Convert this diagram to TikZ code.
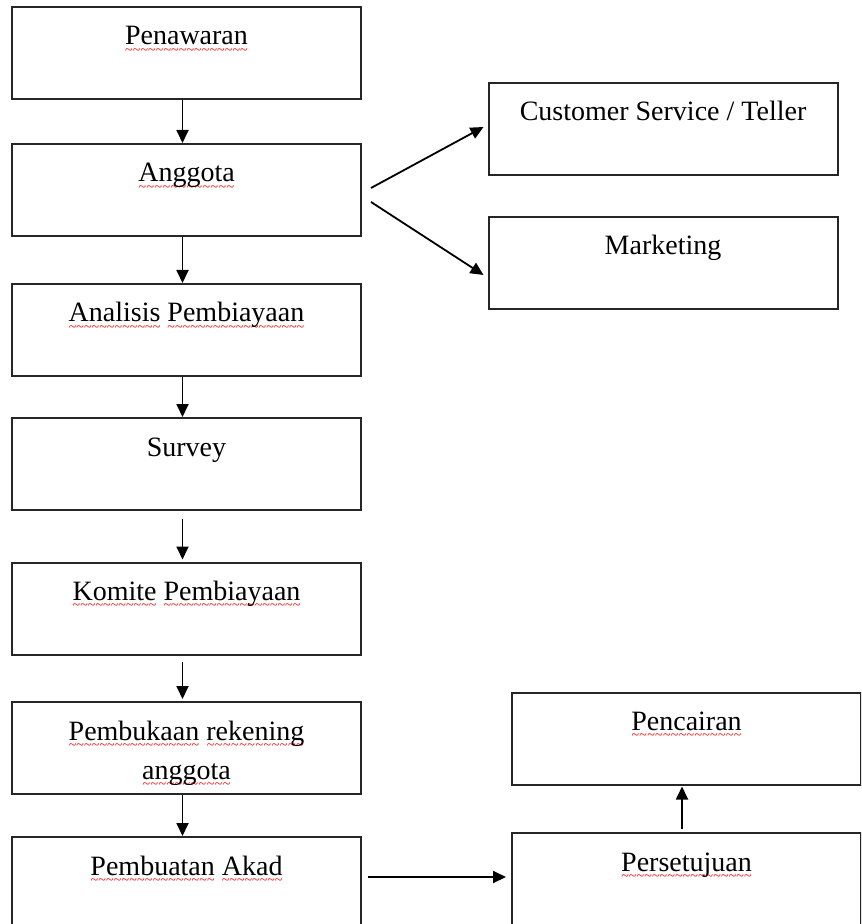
\documentclass[tikz,border=0pt]{standalone}
\usepackage{fontspec}
\setmainfont{Liberation Serif}
\usetikzlibrary{arrows.meta}

% red wavy mark under flagged words
\newcommand\spellerr[1]{\setbox0\hbox{#1}\rlap{\textcolor{red}{\lower4.6pt\hbox to \wd0{\fontsize{7}{7}\selectfont\xleaders\hbox{\char126}\hfil}}}\box0\relax}

\tikzset{
  stepbox/.style={draw=black!85, line width=1pt, minimum width=174.5pt, inner sep=0pt,
    align=center, text height=19pt, text depth=27pt,
    font=\fontsize{14}{19.5}\selectfont},
  twoline/.style={text height=38.5pt, text depth=7.5pt},
  arr/.style={-{Triangle[length=6.5pt,width=6pt]}, line width=0.9pt},
}

\begin{document}
\begin{tikzpicture}[x=0.5pt,y=-0.5pt]
  \useasboundingbox (0,0) rectangle (861,924);
  \begin{scope}
    \clip (0,0) rectangle (861,924);
    % left column
    \node[stepbox] (pen) at (186.5,53) {\spellerr{Penawaran}};
    \node[stepbox] (ang) at (186.5,190) {\spellerr{Anggota}};
    \node[stepbox] (ana) at (186.5,330) {\spellerr{Analisis} \spellerr{Pembiayaan}};
    \node[stepbox] (sur) at (186.5,464) {Survey};
    \node[stepbox] (kom) at (186.5,608.5) {\spellerr{Komite} \spellerr{Pembiayaan}};
    \node[stepbox, twoline] (rek) at (186.5,748) {\spellerr{Pembukaan} \spellerr{rekening}\\ \spellerr{anggota}};
    \node[stepbox] (akad) at (186.5,883) {\spellerr{Pembuatan} \spellerr{Akad}};
    % right column
    \node[stepbox] (cs) at (663,129) {Customer Service / Teller};
    \node[stepbox] (mkt) at (663,263) {Marketing};
    \node[stepbox] (cair) at (686.5,738.5) {\spellerr{Pencairan}};
    \node[stepbox] (setuju) at (686.5,879) {\spellerr{Persetujuan}};

    \draw[arr] ([xshift=-2pt]pen.south) -- ([xshift=-2pt]ang.north);
    \draw[arr] ([xshift=-2pt]ang.south) -- ([xshift=-2pt]ana.north);
    \draw[arr] ([xshift=-2pt]ana.south) -- ([xshift=-2pt]sur.north);
    \draw[arr] ([shift={(-4,8)}]sur.south) -- ([shift={(-4,-2)}]kom.north);
    \draw[arr] ([shift={(-4,6)}]kom.south) -- ([shift={(-4,-2)}]rek.north);
    \draw[arr] ([xshift=-2pt]rek.south) -- ([xshift=-2pt]akad.north);

    \draw[arr] ([shift={(9,-2)}]ang.east) -- ([shift={(-4,-2)}]cs.west);
    \draw[arr] ([shift={(9,12)}]ang.east) -- ([shift={(-4,12)}]mkt.west);
    \draw[arr] ([shift={(6,-6)}]akad.east) -- ([shift={(-5,-2)}]setuju.west);
    \draw[arr] ([shift={(-4.5,-3)}]setuju.north) -- ([shift={(-4.5,1)}]cair.south);
  \end{scope}
\end{tikzpicture}
\end{document}
